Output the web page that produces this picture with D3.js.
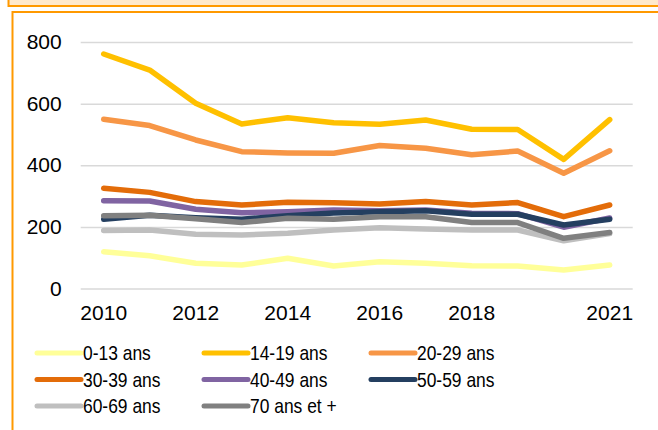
<!DOCTYPE html>
<html>
<head>
<meta charset="utf-8">
<script src="https://cdn.jsdelivr.net/npm/d3@7"></script>
<style>
  html, body { margin: 0; padding: 0; background: #fff; }
  svg { display: block; font-family: "Liberation Sans", Arial, sans-serif; }
</style>
</head>
<body>
<svg id="chart" width="658" height="430"></svg>
<script>
// Years on the category axis
const years = ["2010","2011","2012","2013","2014","2015","2016","2017","2018","2019","2020","2021"];
const yearLabels = ["2010","2012","2014","2016","2018","2021"];
const yTicks = [0, 200, 400, 600, 800];

// One array per age group
const age0_13  = [119, 106, 82, 76, 98, 73, 87, 82, 74, 73, 60, 76];
const age14_19 = [761, 709, 601, 534, 554, 538, 533, 547, 517, 516, 419, 548];
const age20_29 = [549, 529, 482, 444, 440, 439, 464, 455, 434, 446, 374, 447];
const age30_39 = [325, 312, 282, 271, 280, 278, 274, 282, 271, 279, 233, 271];
const age40_49 = [285, 284, 257, 246, 249, 255, 252, 255, 244, 243, 199, 229];
const age50_59 = [225, 238, 230, 225, 236, 245, 249, 252, 241, 241, 206, 225];
const age60_69 = [188, 190, 176, 174, 179, 190, 197, 193, 190, 190, 155, 178];
const age70p   = [236, 238, 226, 214, 228, 225, 233, 233, 214, 214, 163, 182];

const seriesNames  = ["0-13 ans","14-19 ans","20-29 ans","30-39 ans","40-49 ans","50-59 ans","60-69 ans","70 ans et +"];
const seriesValues = [age0_13, age14_19, age20_29, age30_39, age40_49, age50_59, age60_69, age70p];
const seriesColors = ["#FFFF99","#FFC000","#F79646","#E36C09","#8064A2","#243F60","#BFBFBF","#808080"];

const svg = d3.select("#chart");
const frame = "#FF9900";

// Header strip and chart frame
svg.append("rect").attr("x", 8.5).attr("y", -6).attr("width", 700).attr("height", 12)
  .attr("fill", "#FFE9CC").attr("stroke", frame).attr("stroke-width", 2);
svg.append("rect").attr("x", 12.5).attr("y", 12).attr("width", 700).attr("height", 500)
  .attr("fill", "#fff").attr("stroke", frame).attr("stroke-width", 2);

const x = d3.scaleBand().domain(years).range([80.7, 632.7]).padding(0);
const y = d3.scaleLinear().domain([0, 800]).range([288.5, 42]);
const cx = d => x(d) + x.bandwidth() / 2;

// Horizontal gridlines and value labels
const yAxis = svg.append("g").attr("transform", "translate(80.7,0)")
  .call(d3.axisLeft(y).tickValues(yTicks).tickSize(-552).tickPadding(19).tickFormat(d3.format("d")));
yAxis.select(".domain").remove();
yAxis.selectAll(".tick line").attr("stroke", "#D9D9D9").attr("stroke-width", 1.5);
yAxis.selectAll(".tick text").attr("font-size", 21).attr("fill", "#000")
  .attr("font-family", "Liberation Sans, Arial, sans-serif");

// Year labels
const xAxis = svg.append("g").attr("transform", "translate(0,288.5)")
  .call(d3.axisBottom(x).tickValues(yearLabels).tickSize(0).tickPadding(17));
xAxis.select(".domain").remove();
xAxis.selectAll(".tick text").attr("font-size", 21).attr("fill", "#000")
  .attr("font-family", "Liberation Sans, Arial, sans-serif");

// Series lines
const line = d3.line().x((d, i) => cx(years[i])).y(d => y(d));
seriesValues.forEach((vals, k) => {
  svg.append("path").datum(vals)
    .attr("d", line)
    .attr("fill", "none")
    .attr("stroke", seriesColors[k])
    .attr("stroke-width", 5.5)
    .attr("stroke-linejoin", "round")
    .attr("stroke-linecap", "round");
});

// Legend: three columns
const colX = [37, 204, 371];
const rowY = [353, 379.5, 406];
const legend = svg.append("g");
seriesNames.forEach((name, i) => {
  const gx = colX[i % 3], gy = rowY[Math.floor(i / 3)];
  const g = legend.append("g").attr("transform", `translate(${gx},${gy})`);
  g.append("line").attr("x1", 0).attr("x2", 44).attr("y1", 0).attr("y2", 0)
    .attr("stroke", seriesColors[i]).attr("stroke-width", 5).attr("stroke-linecap", "round");
  g.append("text").attr("transform", "translate(46,0) scale(0.85,1)")
    .attr("dy", "0.36em").attr("font-size", 20.5).attr("fill", "#000").text(name);
});
</script>
</body>
</html>
